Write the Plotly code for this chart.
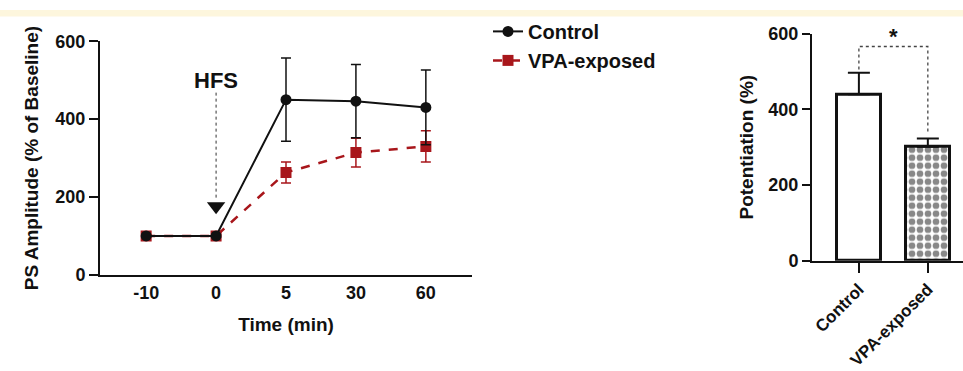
import plotly.graph_objects as go

# ---- data ----
time_labels = ["-10", "0", "5", "30", "60"]
control_mean = [100, 100, 450, 446, 430]
control_sem = [3, 3, 107, 94, 96]
vpa_mean = [100, 100, 263, 314, 330]
vpa_sem = [3, 3, 27, 37, 40]

groups = ["Control", "VPA-exposed"]
potentiation = [440, 301]
potentiation_sem = [57, 22]

W, H = 963, 371
BLACK = "#111111"
RED = "#A8161B"
FONT = "Liberation Sans, Arial, sans-serif"

def px_x(p):
    return p / W

def px_y(p):
    return 1 - p / H

fig = go.Figure()

fig.add_trace(go.Scatter(
    x=time_labels, y=vpa_mean, name="VPA-exposed", mode="lines+markers",
    line=dict(color=RED, width=2.5, dash="dash"),
    marker=dict(symbol="square", size=11, color=RED),
    error_y=dict(type="data", array=vpa_sem, color=RED, thickness=1.5, width=5),
    xaxis="x", yaxis="y", legendgroup="b", legendrank=2,
))
fig.add_trace(go.Scatter(
    x=time_labels, y=control_mean, name="Control", mode="lines+markers",
    line=dict(color=BLACK, width=2),
    marker=dict(symbol="circle", size=11, color=BLACK),
    error_y=dict(type="data", array=control_sem, color=BLACK, thickness=1.5, width=5),
    xaxis="x", yaxis="y", legendgroup="a", legendrank=1,
))
fig.add_trace(go.Scatter(
    x=["0"], y=[176], mode="markers", showlegend=False, hoverinfo="skip",
    marker=dict(symbol="triangle-down", size=16, color=BLACK),
    xaxis="x", yaxis="y",
))

fig.add_trace(go.Bar(
    x=[groups[0]], y=[potentiation[0]], width=0.64, showlegend=False,
    marker=dict(color="white", line=dict(color=BLACK, width=3)),
    error_y=dict(type="data", array=[potentiation_sem[0]], arrayminus=[0],
                 color=BLACK, thickness=2, width=11),
    xaxis="x2", yaxis="y2",
))
fig.add_trace(go.Bar(
    x=[groups[1]], y=[potentiation[1]], width=0.64, showlegend=False,
    marker=dict(color="white", line=dict(color=BLACK, width=3),
                pattern=dict(shape=".", size=8, solidity=0.55, fgcolor=BLACK, bgcolor="white")),
    error_y=dict(type="data", array=[potentiation_sem[1]], arrayminus=[0],
                 color=BLACK, thickness=2, width=11),
    xaxis="x2", yaxis="y2",
))

tickfont = dict(family=FONT, size=18, color=BLACK, weight="bold")
titlefont = dict(family=FONT, size=19, color=BLACK, weight="bold")

fig.update_layout(
    width=W, height=H,
    margin=dict(l=0, r=0, t=0, b=0),
    paper_bgcolor="white", plot_bgcolor="white",
    showlegend=True,
    legend=dict(x=px_x(488), y=px_y(2), xanchor="left", yanchor="top",
                font=dict(family=FONT, size=20, color=BLACK, weight="bold"),
                tracegroupgap=9, itemwidth=30, bgcolor="rgba(0,0,0,0)",
                traceorder="normal"),
    bargap=0,
    xaxis=dict(domain=[px_x(100), px_x(472)], type="category",
               range=[-0.66, 4.66], showline=True, linecolor=BLACK, linewidth=2,
               ticks="", showgrid=False, zeroline=False, tickfont=tickfont,
               title=dict(text="Time (min)", font=titlefont, standoff=16),
               anchor="y"),
    yaxis=dict(domain=[px_y(280), px_y(33)], range=[0, 600],
               tickvals=[0, 200, 400, 600], showline=True, linecolor=BLACK,
               linewidth=2, ticks="outside", ticklen=9, tickwidth=2, tickcolor=BLACK,
               showgrid=False, zeroline=False, tickfont=tickfont,
               title=dict(text="PS Amplitude (% of Baseline)", font=titlefont, standoff=12),
               anchor="x"),
    xaxis2=dict(domain=[px_x(812), 1.0], type="category", range=[-0.68, 1.51],
                showline=True, linecolor=BLACK, linewidth=2, ticks="outside",
                ticklen=10, tickwidth=2, tickcolor=BLACK, showgrid=False,
                zeroline=False, tickangle=-45,
                tickfont=dict(family=FONT, size=17, color=BLACK, weight="bold"),
                anchor="y2"),
    yaxis2=dict(domain=[px_y(265), px_y(25)], range=[0, 600],
                tickvals=[0, 200, 400, 600], showline=True, linecolor=BLACK,
                linewidth=2, ticks="outside", ticklen=8, tickwidth=2, tickcolor=BLACK,
                showgrid=False, zeroline=False, tickfont=tickfont,
                title=dict(text="Potentiation (%)", font=titlefont, standoff=10),
                anchor="x2"),
    shapes=[
        dict(type="rect", xref="paper", yref="paper", x0=0, x1=1, y0=px_y(7), y1=1,
             fillcolor="#FDF6DD", line=dict(width=0), layer="below"),
        dict(type="line", xref="x", yref="y", x0=1, x1=1, y0=468, y1=195,
             line=dict(color="#333333", width=1, dash="dot")),
        dict(type="path", xref="x2", yref="y2",
             path="M 0,505 L 0,566 L 1,566 L 1,336",
             line=dict(color="#444444", width=1.3, dash="dot")),
    ],
    annotations=[
        dict(x=1, y=498, xref="x", yref="y", text="HFS", showarrow=False,
             font=dict(family=FONT, size=22, color=BLACK, weight="bold")),
        dict(x=0.5, y=592, xref="x2", yref="y2", text="*", showarrow=False,
             font=dict(family=FONT, size=22, color=BLACK, weight="bold")),
    ],
)

fig.write_html(
    "out.html",
    config={"displayModeBar": False},
    post_script="document.body.style.margin='0';document.body.style.padding='0';"
                "document.documentElement.style.overflow='hidden';",
)
